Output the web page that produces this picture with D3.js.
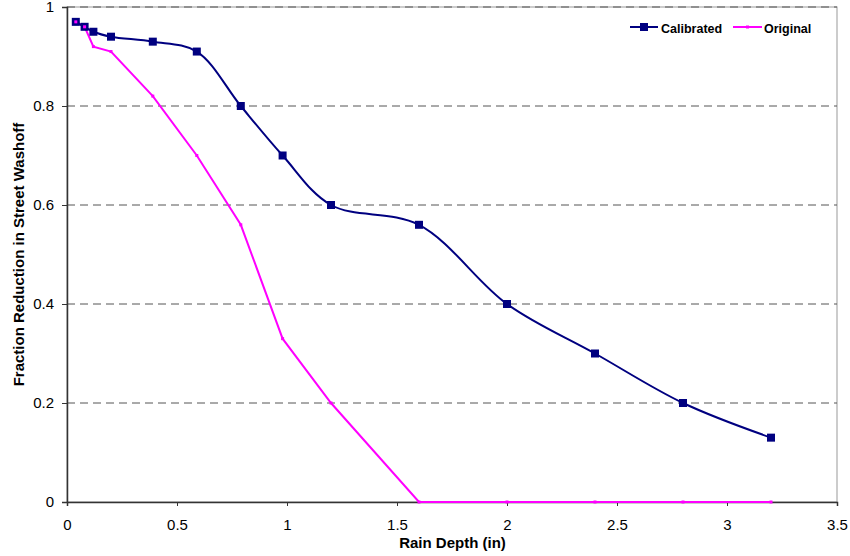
<!DOCTYPE html>
<html lang="en">
<head>
  <meta charset="utf-8">
  <title>Fraction Reduction in Street Washoff</title>
  <script src="https://d3js.org/d3.v7.min.js"></script>
  <style>
    html, body { margin: 0; padding: 0; background: #fff; }
    svg { display: block; font-family: "Liberation Sans", Arial, sans-serif; }
  </style>
</head>
<body>
  <svg width="850" height="556"></svg>
  <script>
    // rain depth (in)
    const rainDepth = [0.04, 0.08, 0.12, 0.2, 0.39, 0.59, 0.79, 0.98, 1.2, 1.6, 2.0, 2.4, 2.8, 3.2];
    const calibrated = [0.97, 0.96, 0.95, 0.94, 0.93, 0.91, 0.80, 0.70, 0.60, 0.56, 0.40, 0.30, 0.20, 0.13];
    const original   = [0.97, 0.96, 0.92, 0.91, 0.82, 0.70, 0.56, 0.33, 0.20, 0, 0, 0, 0, 0];
    const xTicks = [0, 0.5, 1, 1.5, 2, 2.5, 3, 3.5];
    const yTicks = [0, 0.2, 0.4, 0.6, 0.8, 1];

    const svg = d3.select("svg");
    const plotL = 67, plotR = 837, plotT = 7, plotB = 502;
    const font = "'Liberation Sans', Arial, sans-serif";

    const x = d3.scaleLinear().domain([0, 3.5]).range([plotL, plotR]);
    const y = d3.scaleLinear().domain([0, 1]).range([plotB, plotT]);

    // plot area border
    svg.append("rect")
      .attr("x", plotL).attr("y", plotT)
      .attr("width", plotR - plotL).attr("height", plotB - plotT)
      .attr("fill", "none").attr("stroke", "#999").attr("stroke-width", 1);

    // dashed gridlines
    svg.append("g")
      .selectAll("line")
      .data(yTicks.filter(d => d > 0))
      .enter().append("line")
      .attr("x1", plotL).attr("x2", plotR)
      .attr("y1", d => y(d)).attr("y2", d => y(d))
      .attr("stroke", "#555").attr("stroke-width", 1)
      .attr("stroke-dasharray", "8,5");

    // axes
    const xAxis = svg.append("g")
      .attr("transform", `translate(0,${plotB})`)
      .call(d3.axisBottom(x).tickValues(xTicks).tickSize(4).tickPadding(13).tickFormat(d3.format("")));
    const yAxis = svg.append("g")
      .attr("transform", `translate(${plotL},0)`)
      .call(d3.axisLeft(y).tickValues(yTicks).tickSize(5).tickPadding(8).tickFormat(d3.format("")));
    [xAxis, yAxis].forEach(g => {
      g.attr("font-family", font).attr("font-size", 15);
      g.select(".domain").attr("stroke", "#333").attr("stroke-width", 1.5);
      g.selectAll(".tick line").attr("stroke", "#333");
      g.selectAll(".tick text").attr("fill", "#000");
    });

    // axis titles
    svg.append("text")
      .attr("x", (plotL + plotR) / 2 + 0.5).attr("y", 548)
      .attr("text-anchor", "middle")
      .attr("font-family", font).attr("font-size", 15).attr("font-weight", "bold")
      .text("Rain Depth (in)");
    svg.append("text")
      .attr("transform", `translate(23.5,${(plotT + plotB) / 2}) rotate(-90)`)
      .attr("text-anchor", "middle")
      .attr("font-family", font).attr("font-size", 15).attr("font-weight", "bold")
      .text("Fraction Reduction in Street Washoff");

    const calData = rainDepth.map((d, i) => [d, calibrated[i]]);
    const origData = rainDepth.map((d, i) => [d, original[i]]);

    // original series (straight segments)
    svg.append("path")
      .datum(origData)
      .attr("fill", "none").attr("stroke", "#FF00FF").attr("stroke-width", 2)
      .attr("d", d3.line().x(d => x(d[0])).y(d => y(d[1])));

    // calibrated series (smoothed)
    svg.append("path")
      .datum(calData)
      .attr("fill", "none").attr("stroke", "#000080").attr("stroke-width", 2)
      .attr("d", d3.line().curve(d3.curveCatmullRom.alpha(0.5)).x(d => x(d[0])).y(d => y(d[1])));

    svg.append("g")
      .selectAll("rect")
      .data(calData)
      .enter().append("rect")
      .attr("x", d => x(d[0]) - 4).attr("y", d => y(d[1]) - 4)
      .attr("width", 8).attr("height", 8)
      .attr("fill", "#000080");

    svg.append("g")
      .selectAll("rect")
      .data(origData)
      .enter().append("rect")
      .attr("x", d => x(d[0]) - 1.5).attr("y", d => y(d[1]) - 1.5)
      .attr("width", 3).attr("height", 3)
      .attr("fill", "#FF00FF");

    // legend
    const legend = svg.append("g")
      .attr("font-family", font).attr("font-size", 12.5).attr("font-weight", "bold");
    legend.append("line")
      .attr("x1", 630).attr("x2", 658).attr("y1", 27).attr("y2", 27)
      .attr("stroke", "#000080").attr("stroke-width", 2);
    legend.append("rect")
      .attr("x", 640).attr("y", 23).attr("width", 8).attr("height", 8)
      .attr("fill", "#000080");
    legend.append("text").attr("x", 661).attr("y", 32.5).text("Calibrated");
    legend.append("line")
      .attr("x1", 733).attr("x2", 762).attr("y1", 27).attr("y2", 27)
      .attr("stroke", "#FF00FF").attr("stroke-width", 2);
    legend.append("rect")
      .attr("x", 746).attr("y", 25.5).attr("width", 3).attr("height", 3)
      .attr("fill", "#FF00FF");
    legend.append("text").attr("x", 764).attr("y", 32.5).text("Original");
  </script>
</body>
</html>
